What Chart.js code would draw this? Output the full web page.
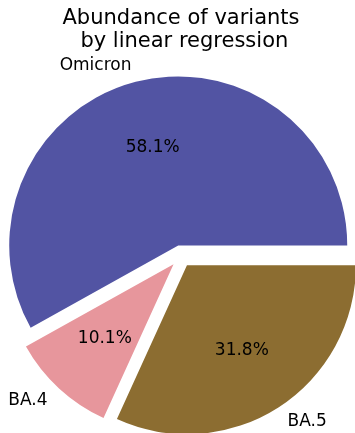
<!DOCTYPE html>
<html>
<head>
<meta charset="utf-8">
<script src="https://cdn.jsdelivr.net/npm/chart.js@4/dist/chart.umd.min.js"></script>
<style>
  body { margin: 0; background: #fff; }
  #wrap { width: 355px; height: 433px; position: relative; }
</style>
</head>
<body>
<div id="wrap"><canvas id="pieChart"></canvas></div>
<script>
// clockwise from 3 o'clock, same as matplotlib's counter-clockwise order reversed
const categories = ['BA.5', 'BA.4', 'Omicron'];
const shares = [31.8, 10.1, 58.1];
const colors = ['#8c6d31', '#e7969c', '#5254a3'];

const EXPLODE = 11;   // px each wedge is pulled out
const RADIUS = 169;
const FONT = '"DejaVu Sans", sans-serif';

// push every wedge out along its middle angle, like matplotlib's explode
const explodePlugin = {
  id: 'explode',
  afterDatasetsUpdate(chart) {
    chart.getDatasetMeta(0).data.forEach((arc) => {
      const mid = (arc.startAngle + arc.endAngle) / 2;
      arc.x += Math.cos(mid) * EXPLODE;
      arc.y += Math.sin(mid) * EXPLODE;
    });
  }
};

const labelPlugin = {
  id: 'pieLabels',
  afterDatasetsDraw(chart) {
    const ctx = chart.ctx;
    const total = shares.reduce((a, b) => a + b, 0);
    ctx.save();
    ctx.fillStyle = '#000';
    ctx.font = '17px ' + FONT;
    ctx.textBaseline = 'middle';
    chart.getDatasetMeta(0).data.forEach((arc, i) => {
      const mid = (arc.startAngle + arc.endAngle) / 2;
      const r = arc.outerRadius;
      const cx = Math.cos(mid), cy = Math.sin(mid);
      // percentage inside
      ctx.textAlign = 'center';
      ctx.fillText((shares[i] / total * 100).toFixed(1) + '%', arc.x + cx * r * 0.6, arc.y + cy * r * 0.6);
      // category outside
      ctx.textAlign = cx < 0 ? 'right' : 'left';
      ctx.fillText(categories[i], arc.x + cx * r * 1.1, arc.y + cy * r * 1.1);
    });
    ctx.restore();
  }
};

new Chart(document.getElementById('pieChart'), {
  type: 'pie',
  data: {
    labels: categories,
    datasets: [{
      data: shares,
      backgroundColor: colors,
      borderWidth: 0,
      clip: false
    }]
  },
  options: {
    responsive: true,
    maintainAspectRatio: false,
    animation: false,
    rotation: 90,
    radius: RADIUS,
    layout: { padding: { top: 0, bottom: 0, left: 7, right: 0 } },
    plugins: {
      legend: { display: false },
      tooltip: { enabled: false },
      title: {
        display: true,
        text: ['Abundance of variants', ' by linear regression'],
        color: '#000',
        font: { family: FONT, size: 21, weight: 'normal', lineHeight: 1.05 },
        padding: { top: 8, bottom: 27 }
      }
    }
  },
  plugins: [explodePlugin, labelPlugin]
});
</script>
</body>
</html>
